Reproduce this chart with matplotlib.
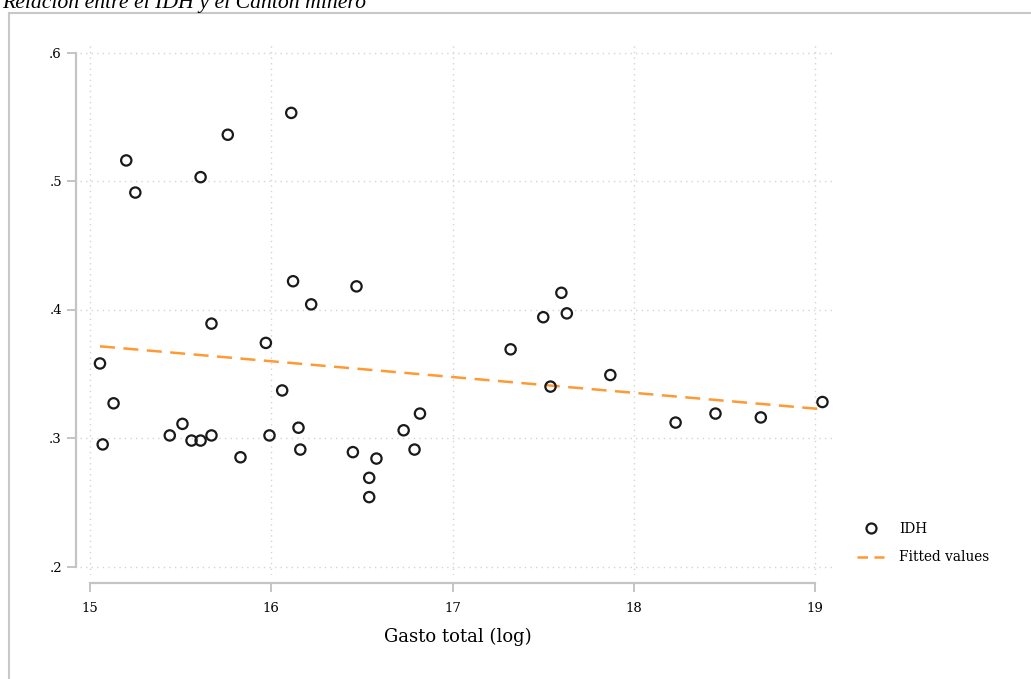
import numpy as np
import matplotlib
matplotlib.use('Agg')
import matplotlib.pyplot as plt
from matplotlib.lines import Line2D

# Datos: gasto total (log) e IDH por cantón
gasto_log = [15.055, 15.07, 15.13, 15.20, 15.25, 15.44, 15.51, 15.56, 15.61, 15.61,
             15.67, 15.67, 15.76, 15.83, 15.97, 15.99, 16.06, 16.11, 16.12, 16.15,
             16.16, 16.22, 16.45, 16.47, 16.54, 16.54, 16.58, 16.73, 16.79, 16.82,
             17.32, 17.50, 17.54, 17.60, 17.63, 17.87, 18.23, 18.45, 18.70, 19.04]
idh = [0.358, 0.295, 0.327, 0.516, 0.491, 0.302, 0.311, 0.298, 0.298, 0.503,
       0.302, 0.389, 0.536, 0.285, 0.374, 0.302, 0.337, 0.553, 0.422, 0.308,
       0.291, 0.404, 0.289, 0.418, 0.269, 0.254, 0.284, 0.306, 0.291, 0.319,
       0.369, 0.394, 0.340, 0.413, 0.397, 0.349, 0.312, 0.319, 0.316, 0.328]

xticks = [15, 16, 17, 18, 19]
yticks = [0.2, 0.3, 0.4, 0.5, 0.6]
ytick_labels = ['.2', '.3', '.4', '.5', '.6']

W, H = 1031, 679
fig = plt.figure(figsize=(W / 100, H / 100), dpi=100)
plt.rcParams['font.family'] = ['DejaVu Serif', 'Liberation Serif']

# marco exterior (solo arriba e izquierda visibles)
frame_col = '#c8c8c8'
fig.add_artist(Line2D([9 / W, 1], [1 - 13 / H, 1 - 13 / H], color=frame_col, lw=1.5,
                      transform=fig.transFigure))
fig.add_artist(Line2D([9 / W, 9 / W], [0, 1 - 13 / H], color=frame_col, lw=1.5,
                      transform=fig.transFigure))

fig.text(2 / W, 1 - 8 / H, 'Relación entre el IDH y el Cantón minero', fontsize=15.7,
         style='italic', family=['Liberation Serif', 'DejaVu Serif'],
         ha='left', va='baseline')

# area del grafico: x 80..835 px, y 45..575 px
ax = fig.add_axes([80 / W, 1 - 575 / H, 755 / W, 530 / H])
x = np.array(gasto_log)
y = np.array(idh)
b, a = np.polyfit(x, y, 1)
xs = np.sort(x)

naranja = '#ff9933'
ax.scatter(x, y, s=55, facecolors='none', edgecolors='#1a1a1a', linewidths=1.6,
           zorder=3)
ax.plot(xs, a + b * xs, color=naranja, lw=1.8, dashes=(6, 3.4), zorder=2)

px_x = 181.3
px_y = 1285.0
ax.set_xlim(15 - 10 / px_x, 15 + 745 / px_x)
ax.set_ylim(0.2 - 8.5 / px_y, 0.6 + 7.5 / px_y)

ax.set_xticks(xticks)
ax.set_xticklabels([str(t) for t in xticks])
ax.set_yticks(yticks)
ax.set_yticklabels(ytick_labels)

axis_col = '#c4c4c4'
for side in ['top', 'right']:
    ax.spines[side].set_visible(False)
ax.spines['left'].set_position(('outward', 3))
ax.spines['bottom'].set_position(('outward', 6))
ax.spines['left'].set_bounds(0.2, 0.6)
ax.spines['bottom'].set_bounds(15, 19)
for side in ['left', 'bottom']:
    ax.spines[side].set_color(axis_col)
    ax.spines[side].set_linewidth(1.6)
ax.tick_params(axis='both', colors=axis_col, length=6.5, width=1.4,
               labelcolor='black', labelsize=9.5)
ax.tick_params(axis='x', pad=7)
ax.tick_params(axis='y', pad=3.5)

ax.grid(True, color='#d4d4d4', linestyle=(0, (1, 3)), linewidth=1.0)
ax.set_axisbelow(True)

ax.set_xlabel('Gasto total (log)', fontsize=13, labelpad=9)

# leyenda a la derecha, abajo
h_idh = Line2D([], [], linestyle='none', marker='o', markersize=7.2,
               markerfacecolor='none', markeredgecolor='#1a1a1a', markeredgewidth=1.6)
h_fit = Line2D([], [], color=naranja, lw=1.8, dashes=(4.2, 2.6))
fig.legend([h_idh, h_fit], ['IDH', 'Fitted values'], loc='upper left',
           bbox_to_anchor=(857 / W, 1 - 522 / H), frameon=False,
           fontsize=9.8, handlelength=2.0, borderpad=0, borderaxespad=0,
           labelspacing=1.05, handletextpad=1.1)

fig.savefig('out.png', dpi=100)
